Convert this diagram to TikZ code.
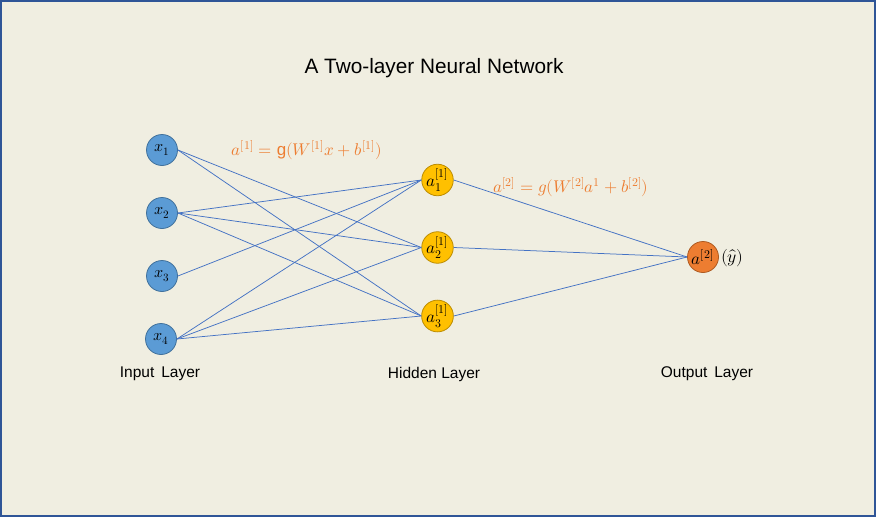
\documentclass[tikz,border=0pt]{standalone}
\usepackage{fontspec}
\usepackage{unicode-math}
\setmainfont{Liberation Sans}
\setmathfont{Latin Modern Math}
\usetikzlibrary{calc}
\definecolor{bg}{HTML}{F0EEE1}
\definecolor{frame}{HTML}{2F5597}
\definecolor{edge}{HTML}{4472C4}
\definecolor{inpfill}{HTML}{5B9BD5}
\definecolor{inpline}{HTML}{41719C}
\definecolor{hidfill}{HTML}{FFC000}
\definecolor{hidline}{HTML}{BC8C00}
\definecolor{outfill}{HTML}{ED7D31}
\definecolor{outline}{HTML}{AE5A21}
\definecolor{formula}{HTML}{ED7D31}
\tikzset{
  neuron/.style={circle, minimum size=31pt, inner sep=0pt, line width=0.8pt, font=\fontsize{16}{16}\selectfont},
  inp/.style={neuron, fill=inpfill, draw=inpline},
  hid/.style={neuron, fill=hidfill, draw=hidline, font=\fontsize{17}{17}\selectfont},
  outn/.style={neuron, fill=outfill, draw=outline, font=\fontsize{17}{17}\selectfont},
  conn/.style={draw=edge, line width=0.75pt},
  layerlabel/.style={font=\fontsize{15.5}{16}\selectfont, inner sep=0pt},
  formulatext/.style={text=formula, font=\fontsize{17}{17}\selectfont, inner sep=0pt}
}
\begin{document}
\begin{tikzpicture}[x=1pt,y=-1pt]
\useasboundingbox (0,0) rectangle (876,517);
\fill[bg] (0,0) rectangle (876,517);
\draw[frame, line width=1.6pt] (0.8,0.8) rectangle (875.2,516.2);

\node[inner sep=0pt, font=\fontsize{20.8}{21}\selectfont] (title) at (434,68) {A Two-layer Neural Network};

\node[inp] (x1) at (162,150) {$x_1$};
\node[inp] (x2) at (162,213) {$x_2$};
\node[inp] (x3) at (162,276) {$x_3$};
\node[inp] (x4) at (161,339) {$x_4$};

\node[hid] (h1) at (437.5,180) {$a_1^{[1]}$};
\node[hid] (h2) at (437.5,247.5) {$a_2^{[1]}$};
\node[hid] (h3) at (437.5,316) {$a_3^{[1]}$};

\node[outn] (o) at (703,257) {$a^{[2]}$};
\node[anchor=west, inner sep=0pt, font=\fontsize{17.5}{17.5}\selectfont] (yhat) at ($(o.east)+(2,1)$) {$(\hat{y})$};

\node[formulatext] (f1) at (307,150) {$a^{[1]}=\mathrm{g}(W^{[1]}x+b^{[1]})$};
\node[formulatext] (f2) at (571,187) {$a^{[2]}=g(W^{[2]}a^{1}+b^{[2]})$};

\node[layerlabel] (l1) at (160,374) {Input\, Layer};
\node[layerlabel] (l2) at (434,374) {Hidden Layer};
\node[layerlabel] (l3) at (707,374) {Output\, Layer};

\draw[conn] (x1.east) -- (h2.west);
\draw[conn] (x1.east) -- (h3.west);
\draw[conn] (x2.east) -- (h1.west);
\draw[conn] (x2.east) -- (h2.west);
\draw[conn] (x2.east) -- (h3.west);
\draw[conn] (x3.east) -- (h1.west);
\draw[conn] (x4.east) -- (h1.west);
\draw[conn] (x4.east) -- (h2.west);
\draw[conn] (x4.east) -- (h3.west);
\draw[conn] (h1.east) -- (o.west);
\draw[conn] (h2.east) -- (o.west);
\draw[conn] (h3.east) -- (o.west);
\end{tikzpicture}
\end{document}
